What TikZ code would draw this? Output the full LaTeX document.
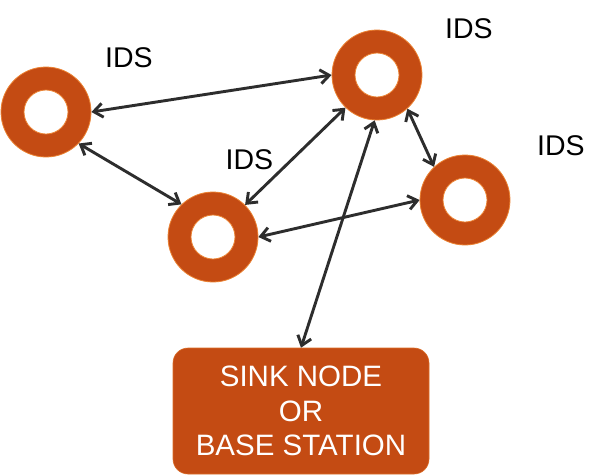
\documentclass[tikz,border=0pt]{standalone}
\usepackage{fontspec}
\setmainfont{Liberation Sans}
\usetikzlibrary{arrows.meta}
\definecolor{ringfill}{RGB}{196,75,19}
\definecolor{ringline}{RGB}{235,130,50}
\definecolor{arrowc}{RGB}{45,45,45}
\tikzset{
  ring/.style={circle, minimum size=90pt, inner sep=0pt, fill=ringfill, draw=ringline, line width=0.8pt,
    path picture={\draw[ringline, line width=0.8pt, fill=white] (path picture bounding box.center) circle (22pt);}},
  sinkbox/.style={rectangle, rounded corners=15pt, minimum width=256pt, minimum height=126pt,
    fill=ringfill, draw=ringline!60!ringfill, line width=0.6pt, text=white, align=center,
    font=\fontsize{29.5pt}{34.5pt}\selectfont, inner sep=0pt},
  idslabel/.style={font=\fontsize{28.5pt}{34pt}\selectfont, inner sep=0pt, text=black},
  link/.style={draw=arrowc, line width=2.9pt, {Straight Barb[length=9pt,width=14pt]}-{Straight Barb[length=9pt,width=14pt]}}
}
\begin{document}
\begin{tikzpicture}[x=1pt,y=-1pt]
\useasboundingbox (0,0) rectangle (603,475);
\fill[white] (0,0) rectangle (603,475);
\node[ring] (A) at (46,112) {};
\node[ring] (B) at (377,75) {};
\node[ring] (C) at (213,237) {};
\node[ring] (D) at (465,200) {};
\node[sinkbox] (S) at (301,411) {SINK NODE\\OR\\BASE STATION};
\node[idslabel] (l1) at (129,58) {IDS};
\node[idslabel] (l2) at (469,28.5) {IDS};
\node[idslabel] (l3) at (249.5,159.5) {IDS};
\node[idslabel] (l4) at (561,146) {IDS};
\draw[link] (A.0) -- (B.180);
\draw[link] (A.-44) -- (C.134);
\draw[link] (C.45) -- (B.226);
\draw[link] (C.0) -- (D.180);
\draw[link] (B.-48) -- (D.133);
\draw[link] (B.-93) -- (S.north);
\end{tikzpicture}
\end{document}
